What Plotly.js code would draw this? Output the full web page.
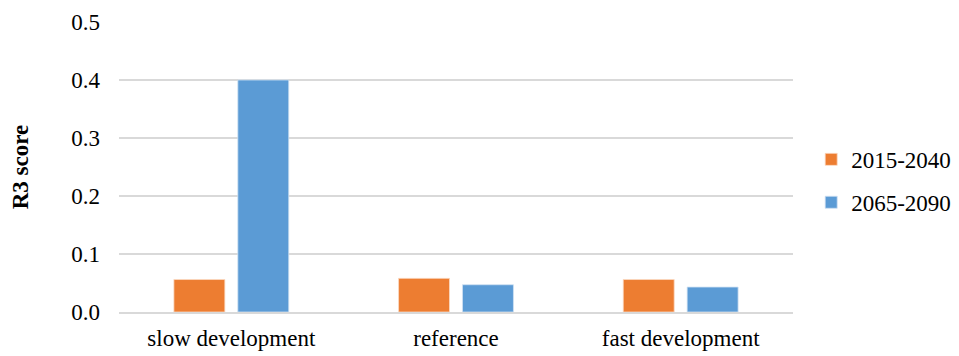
<!DOCTYPE html>
<html>
<head>
<meta charset="utf-8">
<script src="https://cdn.plot.ly/plotly-3.0.1.min.js"></script>
<style>html,body{margin:0;padding:0;background:#fff;}#chart{width:959px;height:356px;}</style>
</head>
<body>
<div id="chart"></div>
<script>
const categories = ["slow development", "reference", "fast development"];
const seriesNames = ["2015-2040", "2065-2090"];
const values2015 = [0.056, 0.058, 0.056];
const values2065 = [0.400, 0.047, 0.043];
const yTicks = [0, 0.1, 0.2, 0.3, 0.4, 0.5];

const font = "Liberation Serif";
const traces = [
  {type: "bar", name: seriesNames[0], x: categories, y: values2015, legendgroup: "a",
   marker: {color: "#ED7D31", line: {color: "#fbd9c3", width: 0.8}}},
  {type: "bar", name: seriesNames[1], x: categories, y: values2065, legendgroup: "b",
   marker: {color: "#5B9BD5", line: {color: "#cfe1f2", width: 0.8}}}
];
const layout = {
  width: 959, height: 356,
  margin: {l: 119, r: 166, t: 22, b: 44, autoexpand: false},
  paper_bgcolor: "#fff", plot_bgcolor: "#fff",
  font: {family: font, size: 23, color: "#000"},
  barmode: "group", bargap: 0.431, bargroupgap: 0.203,
  showlegend: true,
  legend: {x: 1.027, xanchor: "left", y: 0.452, yanchor: "middle", tracegroupgap: 10,
           font: {family: font, size: 23, color: "#000"}, bgcolor: "rgba(0,0,0,0)"},
  xaxis: {type: "category", showgrid: false, showline: true, linecolor: "#d9d9d9", linewidth: 1.5,
          ticks: "", ticklabelstandoff: 5, tickfont: {family: font, size: 23, color: "#000"},
          automargin: false, fixedrange: true},
  yaxis: {range: [0, 0.5], tickvals: yTicks, tickformat: ".1f", showgrid: true, gridcolor: "#d9d9d9",
          gridwidth: 1.5, zeroline: false, showline: false, ticks: "", ticklabelstandoff: 18,
          tickfont: {family: font, size: 23, color: "#000"}, automargin: false, fixedrange: true,
          title: {text: "<b>R3 score</b>", font: {family: font, size: 23, color: "#000"}, standoff: 36}}
};
Plotly.newPlot("chart", traces, layout, {displayModeBar: false, staticPlot: true});
</script>
</body>
</html>
